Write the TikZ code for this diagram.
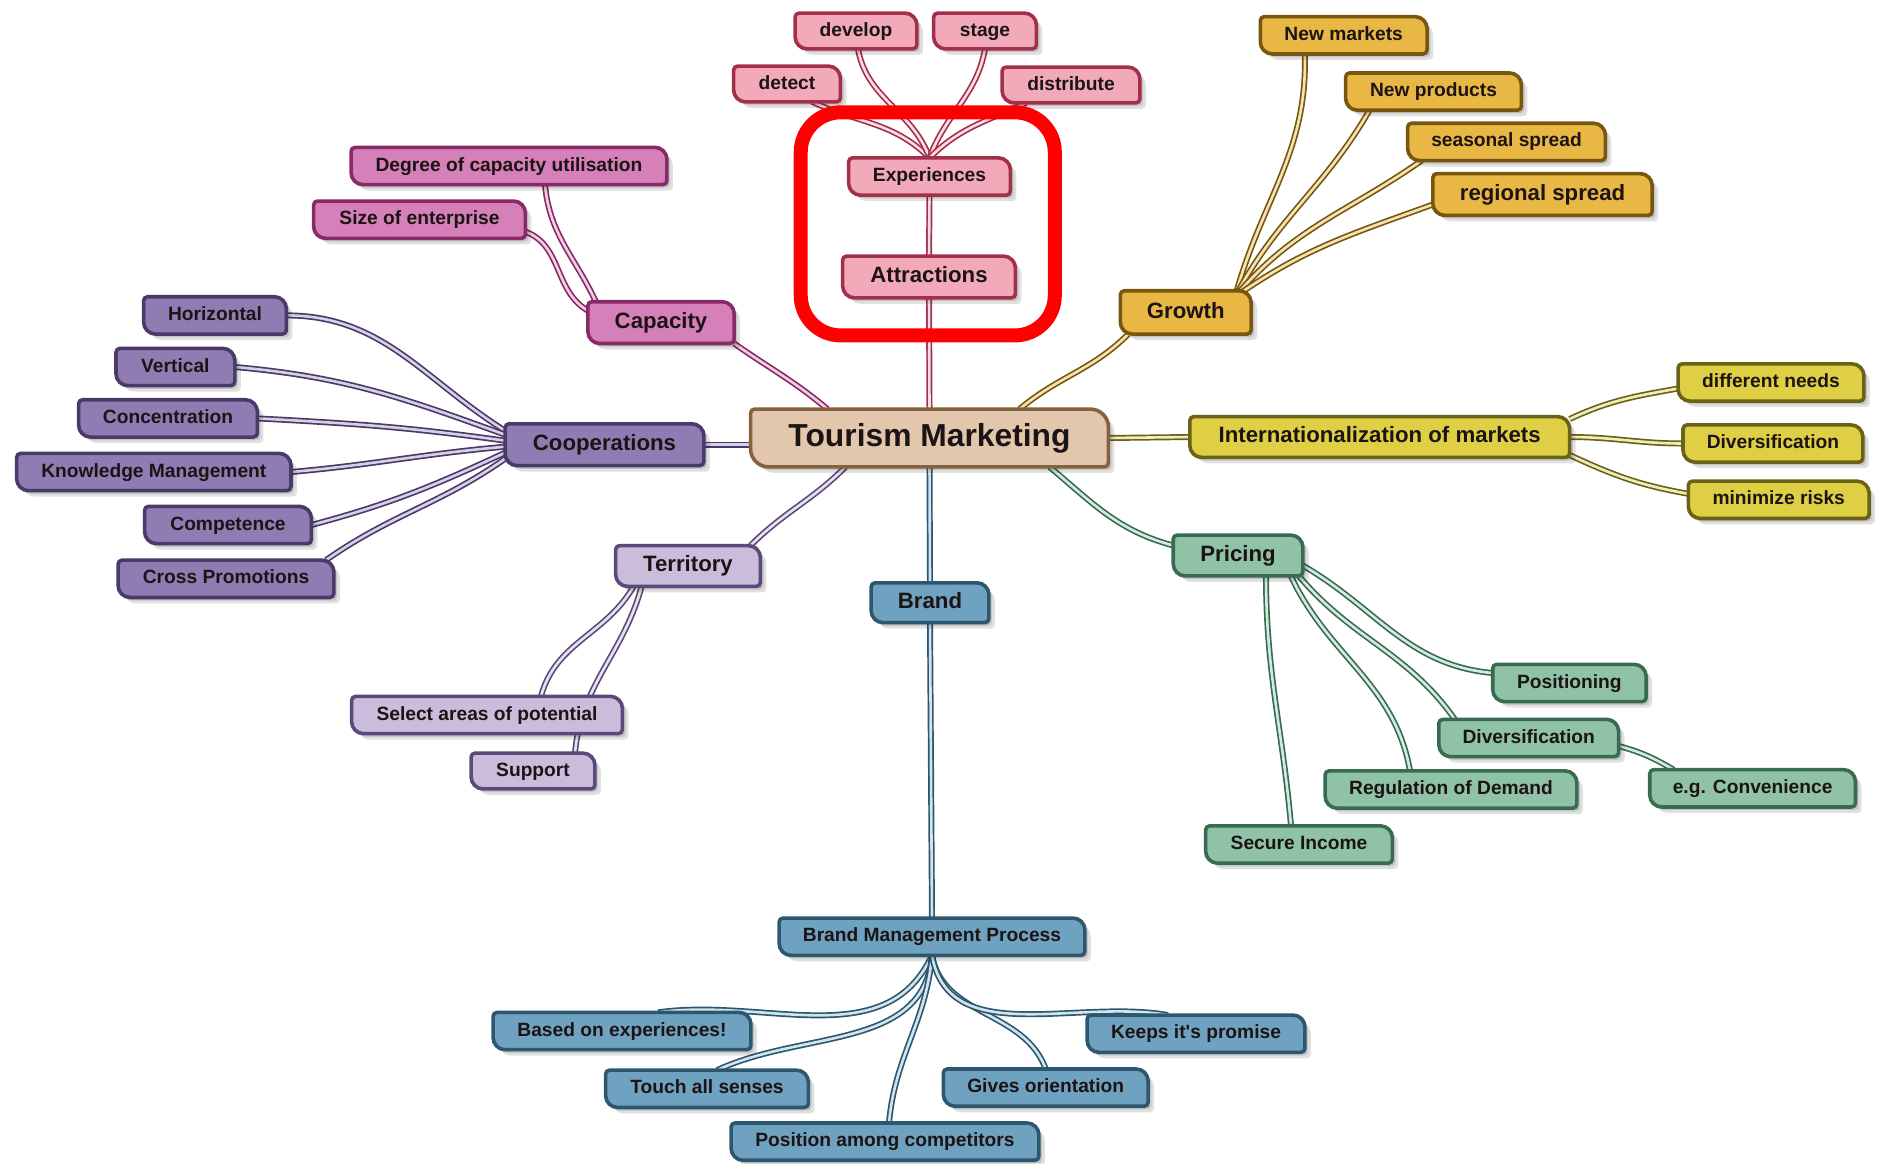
\documentclass[tikz,border=0pt]{standalone}
\usepackage{fontspec}
\setmainfont{Liberation Sans}
\usetikzlibrary{calc}
\pgfdeclarelayer{edges}
\pgfdeclarelayer{boxes}
\pgfsetlayers{edges,boxes,main}

\definecolor{txt}{HTML}{1C1414}
\definecolor{pkF}{HTML}{F2A9B9}\definecolor{pkD}{HTML}{A2304B}\definecolor{pkL}{HTML}{FBDDE4}
\definecolor{mgF}{HTML}{D580B8}\definecolor{mgD}{HTML}{882A66}\definecolor{mgL}{HTML}{F0CFE4}
\definecolor{puF}{HTML}{8F7CB3}\definecolor{puD}{HTML}{4A3A69}\definecolor{puL}{HTML}{D8D0E6}
\definecolor{lpF}{HTML}{CABCDB}\definecolor{lpD}{HTML}{5A4A7B}\definecolor{lpL}{HTML}{E8E1F0}
\definecolor{blF}{HTML}{6FA2C0}\definecolor{blD}{HTML}{2C576F}\definecolor{blL}{HTML}{D3E4EE}
\definecolor{grF}{HTML}{8FC2A6}\definecolor{grD}{HTML}{386B51}\definecolor{grL}{HTML}{D6EBDF}
\definecolor{orF}{HTML}{E9B743}\definecolor{orD}{HTML}{775710}\definecolor{orL}{HTML}{F6E3B4}
\definecolor{yeF}{HTML}{DECF45}\definecolor{yeD}{HTML}{6A6218}\definecolor{yeL}{HTML}{F2EDB8}
\definecolor{tmF}{HTML}{E3C7AC}\definecolor{tmD}{HTML}{85623F}

\newcommand\fsS{\bfseries\fontsize{9.6}{11}\selectfont}
\newcommand\fsM{\bfseries\fontsize{11.1}{13}\selectfont}
\newcommand\fsL{\bfseries\fontsize{15.9}{18}\selectfont}

\newcommand\leafbox[4]{%
  \fill[black,opacity=.12,transform canvas={xshift=3pt,yshift=-3pt}]
    ([xshift=2pt]#1.north west) -- ([xshift=-#4]#1.north east) arc[start angle=90,end angle=0,radius=#4]
    -- ([yshift=2pt]#1.south east) arc[start angle=0,end angle=-90,radius=2pt]
    -- ([xshift=#4]#1.south west) arc[start angle=270,end angle=180,radius=#4]
    -- ([yshift=-2pt]#1.north west) arc[start angle=180,end angle=90,radius=2pt] -- cycle;
  \fill[black,opacity=.12,transform canvas={xshift=1.6pt,yshift=-1.6pt}]
    ([xshift=2pt]#1.north west) -- ([xshift=-#4]#1.north east) arc[start angle=90,end angle=0,radius=#4]
    -- ([yshift=2pt]#1.south east) arc[start angle=0,end angle=-90,radius=2pt]
    -- ([xshift=#4]#1.south west) arc[start angle=270,end angle=180,radius=#4]
    -- ([yshift=-2pt]#1.north west) arc[start angle=180,end angle=90,radius=2pt] -- cycle;
  \path[fill=#2,draw=#3,line width=1.8pt]
    ([xshift=2pt]#1.north west) -- ([xshift=-#4]#1.north east) arc[start angle=90,end angle=0,radius=#4]
    -- ([yshift=2pt]#1.south east) arc[start angle=0,end angle=-90,radius=2pt]
    -- ([xshift=#4]#1.south west) arc[start angle=270,end angle=180,radius=#4]
    -- ([yshift=-2pt]#1.north west) arc[start angle=180,end angle=90,radius=2pt] -- cycle;
}

\begin{document}
\begin{tikzpicture}[x=0.5pt,y=0.5pt,
  sm/.style={font=\fsS, text=txt, inner sep=0pt, minimum height=18.25pt, text height=7pt, text depth=2pt},
  md/.style={font=\fsM, text=txt, inner sep=0pt, text height=8.1pt, text depth=2.3pt},
  wd/.style={minimum width=#1pt},
  ht/.style={minimum height=#1pt},
  conn/.style 2 args={draw=#1, double=#2, line width=.85pt, double distance=1.3pt},
]
\useasboundingbox (0,0) rectangle (1877,-1163);

% central
\node[md,wd=178.5,ht=28.5,font=\fsL,text height=11.4pt,text depth=3.3pt] (tm) at (929.5,-438) {Tourism Marketing};

% pink
\node[sm,wd=60.5,ht=17.5] (develop) at (856,-31) {develop};
\node[sm,wd=51,ht=17.5] (stage) at (985,-31) {stage};
\node[sm,wd=53,ht=17.5] (detect) at (787,-84) {detect};
\node[sm,wd=68.5,ht=17.5] (distribute) at (1071,-85) {distribute};
\node[sm,wd=80.5] (exper) at (929.5,-176.5) {Experiences};
\node[md,wd=86,ht=20.5] (attr) at (929,-277) {Attractions};

% magenta
\node[sm,wd=157.5] (degree) at (509,-166) {Degree of capacity utilisation};
\node[sm,wd=105.5] (size) at (419.5,-219.7) {Size of enterprise};
\node[md,wd=72.75,ht=20.5] (capacity) at (661,-322.6) {Capacity};

% purple
\node[sm,wd=71] (horiz) at (215,-315.4) {Horizontal};
\node[sm,wd=59] (vert) at (175.4,-367) {Vertical};
\node[sm,wd=89] (conc) at (168,-418.4) {Concentration};
\node[sm,wd=136.75] (know) at (153.8,-472) {Knowledge Management};
\node[sm,wd=83] (comp) at (228,-525) {Competence};
\node[sm,wd=107.5] (cross) at (226,-578.8) {Cross Promotions};
\node[md,wd=99,ht=20.5] (coop) at (604.5,-444.7) {Cooperations};

% territory
\node[md,wd=72,ht=20] (terr) at (688,-566) {Territory};
\node[sm,wd=135] (select) at (487,-715) {Select areas of potential};
\node[sm,wd=61.5,ht=17.5] (support) at (533,-771) {Support};

% blue
\node[md,wd=58.5,ht=19.5] (brand) at (930,-602.7) {Brand};
\node[sm,wd=152.5] (bmp) at (932,-936.7) {Brand Management Process};
\node[sm,wd=128.5] (based) at (622,-1031) {Based on experiences!};
\node[sm,wd=108.5] (keeps) at (1196,-1033.7) {Keeps it\textquotesingle s promise};
\node[sm,wd=101] (touch) at (707,-1088.8) {Touch all senses};
\node[sm,wd=102] (gives) at (1045.7,-1087.6) {Gives orientation};
\node[sm,wd=153.5] (posc) at (885,-1141.6) {Position among competitors};

% green
\node[md,wd=64.4,ht=20] (pricing) at (1238,-555.5) {Pricing};
\node[sm,wd=76.3] (posit) at (1569.4,-683) {Positioning};
\node[sm,wd=89.5] (gdiv) at (1528.7,-738) {Diversification};
\node[sm,wd=102.5] (conv) at (1752.6,-788.3) {e.g. Convenience};
\node[sm,wd=125.5] (regul) at (1451,-789.5) {Regulation of Demand};
\node[sm,wd=93] (secure) at (1299,-844.5) {Secure Income};

% growth
\node[sm,wd=83] (newm) at (1343.7,-35.3) {New markets};
\node[sm,wd=87.5] (newp) at (1433.5,-91.6) {New products};
\node[sm,wd=98.5] (seas) at (1506.5,-141.9) {seasonal spread};
\node[md,wd=109.25,ht=20.5] (regio) at (1542.5,-194.5) {regional spread};
\node[md,wd=65,ht=21.25] (growth) at (1185.7,-312.4) {Growth};

% internationalization
\node[md,wd=189.5,ht=20] (intl) at (1379.7,-437) {Internationalization of markets};
\node[sm,wd=92.5] (diffn) at (1771,-382.5) {different needs};
\node[sm,wd=89.5] (idiv) at (1772.9,-443.5) {Diversification};
\node[sm,wd=90] (minr) at (1778.7,-499.8) {minimize risks};

\begin{pgfonlayer}{boxes}
\foreach \n/\f/\c in {develop/pkF/pkD, stage/pkF/pkD, detect/pkF/pkD, distribute/pkF/pkD, exper/pkF/pkD, attr/pkF/pkD,
  degree/mgF/mgD, size/mgF/mgD, capacity/mgF/mgD,
  horiz/puF/puD, vert/puF/puD, conc/puF/puD, know/puF/puD, comp/puF/puD, cross/puF/puD, coop/puF/puD,
  terr/lpF/lpD, select/lpF/lpD, support/lpF/lpD,
  brand/blF/blD, bmp/blF/blD, based/blF/blD, keeps/blF/blD, touch/blF/blD, gives/blF/blD, posc/blF/blD,
  pricing/grF/grD, posit/grF/grD, gdiv/grF/grD, conv/grF/grD, regul/grF/grD, secure/grF/grD,
  newm/orF/orD, newp/orF/orD, seas/orF/orD, regio/orF/orD, growth/orF/orD,
  intl/yeF/yeD, diffn/yeF/yeD, idiv/yeF/yeD, minr/yeF/yeD}
  {\leafbox{\n}{\f}{\c}{6pt}}
\leafbox{tm}{tmF}{tmD}{9pt}
\end{pgfonlayer}

\begin{pgfonlayer}{edges}
% pink
\draw[conn={pkD}{pkL}] (tm.north) -- (attr.south);
\draw[conn={pkD}{pkL}] (attr.north) -- (exper.south);
\draw[conn={pkD}{pkL}] (exper.north) to[out=135,in=-25] ([xshift=-14pt]detect.south east);
\draw[conn={pkD}{pkL}] (exper.north) to[out=110,in=-80] ([xshift=1pt]develop.south);
\draw[conn={pkD}{pkL}] (exper.north) to[out=70,in=-100] (stage.south);
\draw[conn={pkD}{pkL}] (exper.north) to[out=45,in=-155] ([xshift=12pt]distribute.south west);
% magenta
\draw[conn={mgD}{mgL}] ([xshift=-51pt]tm.north) to[out=140,in=-35] (capacity.south east);
\draw[conn={mgD}{mgL}] ([xshift=4pt]capacity.north west) to[out=115,in=-85] ([xshift=18pt]degree.south);
\draw[conn={mgD}{mgL}] ([yshift=6pt]capacity.west) to[out=150,in=-20] ([yshift=-6pt]size.east);
% purple
\draw[conn={puD}{puL}] (coop.east) -- (tm.west |- coop.east);
\draw[conn={puD}{puL}] ([yshift=7pt]coop.west) to[out=148,in=0] (horiz.east);
\draw[conn={puD}{puL}] ([yshift=5pt]coop.west) to[out=160,in=-5] (vert.east);
\draw[conn={puD}{puL}] ([yshift=2pt]coop.west) to[out=172,in=-3] (conc.east);
\draw[conn={puD}{puL}] ([yshift=-1pt]coop.west) to[out=185,in=5] (know.east);
\draw[conn={puD}{puL}] ([yshift=-4pt]coop.west) to[out=205,in=15] (comp.east);
\draw[conn={puD}{puL}] ([yshift=-7pt]coop.west) to[out=215,in=35] ([xshift=-4pt]cross.north east);
% territory
\draw[conn={lpD}{lpL}] ([xshift=-42pt]tm.south) to[out=-135,in=45] ([xshift=-5pt]terr.north east);
\draw[conn={lpD}{lpL}] ([xshift=9pt]terr.south west) to[out=-120,in=75] ([xshift=27pt]select.north);
\draw[conn={lpD}{lpL}] ([xshift=13pt]terr.south west) to[out=-105,in=85] ([xshift=21pt]support.north);
% blue
\draw[conn={blD}{blL}] (tm.south) -- (brand.north);
\draw[conn={blD}{blL}] (brand.south) -- (bmp.north);
\draw[conn={blD}{blL}] (bmp.south) to[out=-115,in=8] ([xshift=18pt]based.north);
\draw[conn={blD}{blL}] (bmp.south) to[out=-95,in=25] ([xshift=5pt]touch.north);
\draw[conn={blD}{blL}] (bmp.south) to[out=-95,in=85] ([xshift=2pt]posc.north);
\draw[conn={blD}{blL}] (bmp.south) to[out=-80,in=110] (gives.north);
\draw[conn={blD}{blL}] (bmp.south) to[out=-80,in=170] ([xshift=-14pt]keeps.north);
% green
\draw[conn={grD}{grL}] ([xshift=60pt]tm.south) to[out=-40,in=165] ([yshift=5pt]pricing.west);
\draw[conn={grD}{grL}] ([yshift=-5pt]pricing.east) to[out=-30,in=175] ([yshift=5pt]posit.west);
\draw[conn={grD}{grL}] ([xshift=-2pt]pricing.south east) to[out=-50,in=125] ([xshift=8pt]gdiv.north west);
\draw[conn={grD}{grL}] ([xshift=-6pt]pricing.south east) to[out=-65,in=100] ([xshift=-20.5pt]regul.north);
\draw[conn={grD}{grL}] ([xshift=14pt]pricing.south) to[out=-90,in=95] ([xshift=-4pt]secure.north);
\draw[conn={grD}{grL}] ([yshift=-4pt]gdiv.east) to[out=-15,in=150] ([xshift=12pt]conv.north west);
% growth
\draw[conn={orD}{orL}] ([xshift=45pt]tm.north) to[out=40,in=-135] ([xshift=4pt]growth.south west);
\draw[conn={orD}{orL}] ([xshift=-8pt,yshift=-3pt]growth.north east) to[out=75,in=-88] ([xshift=-19.5pt]newm.south);
\draw[conn={orD}{orL}] ([xshift=-8pt,yshift=-3pt]growth.north east) to[out=62,in=-120] ([xshift=-32pt]newp.south);
\draw[conn={orD}{orL}] ([xshift=-8pt,yshift=-3pt]growth.north east) to[out=50,in=-145] ([xshift=7pt]seas.south west);
\draw[conn={orD}{orL}] ([xshift=-8pt,yshift=-3pt]growth.north east) to[out=35,in=-160] ([yshift=-5pt]regio.west);
% yellow
\draw[conn={yeD}{yeL}] (tm.east) -- (intl.west);
\draw[conn={yeD}{yeL}] ([yshift=9pt]intl.east) to[out=25,in=190] ([yshift=-3pt]diffn.west);
\draw[conn={yeD}{yeL}] (intl.east) to[out=0,in=180] (idiv.west);
\draw[conn={yeD}{yeL}] ([yshift=-9pt]intl.east) to[out=-25,in=170] ([yshift=3pt]minr.west);
\end{pgfonlayer}

% red highlight
\draw[red, line width=7pt, rounded corners=20pt] (800.7,-112.3) rectangle (1054.8,-335.4);
\end{tikzpicture}
\end{document}
